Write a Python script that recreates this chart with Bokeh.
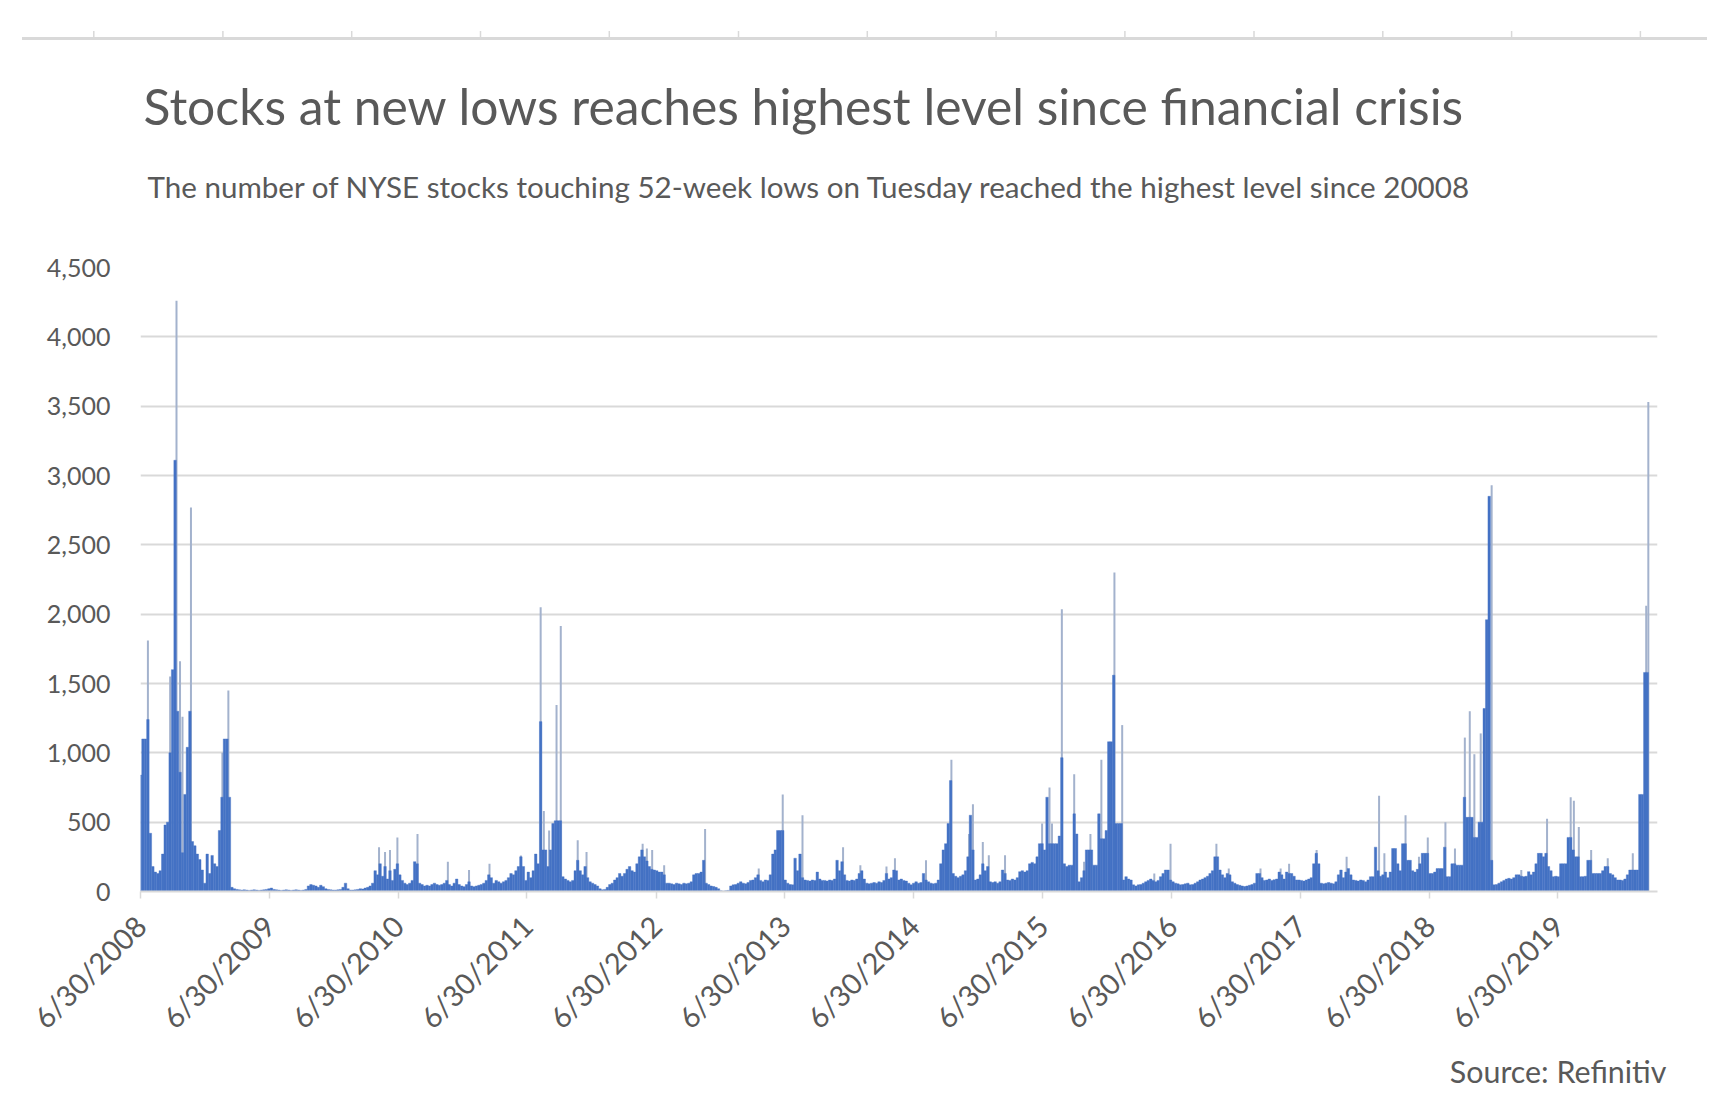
import math
import pandas as pd
from bokeh.plotting import figure
from bokeh.models import (ColumnDataSource, Range1d, FixedTicker, NumeralTickFormatter,
                          CustomJSTickFormatter, Title, Div)
from bokeh.layouts import column
from bokeh.embed import file_html
from bokeh.resources import INLINE

# ---------------- data (weekly level of NYSE stocks at 52-week lows) ----------
first_week = "2008-06-30"

lows_2008_09 = [840, 1100, 1100, 1240, 420, 180, 140, 130, 150, 270,
                480, 500, 1000, 1600, 3110, 1300, 860, 280, 700, 1040,
                1300, 360, 330, 270, 230, 155, 60, 270, 130, 260,
                200, 180, 440, 680, 1100, 1100, 680, 30, 20, 15,
                12, 10, 12, 10, 8, 10, 12, 10, 8, 10,
                12, 15]
lows_2009_10 = [20, 25, 15, 12, 10, 8, 10, 12, 10, 8,
                10, 12, 10, 8, 10, 15, 40, 50, 45, 40,
                30, 45, 35, 20, 15, 12, 10, 10, 12, 15,
                30, 60, 20, 10, 10, 12, 15, 20, 18, 25,
                30, 40, 60, 150, 120, 200, 110, 180, 90, 150,
                80, 160]
lows_2010_11 = [200, 120, 80, 60, 50, 60, 80, 215, 200, 60,
                50, 40, 45, 40, 50, 60, 50, 45, 50, 60,
                80, 50, 40, 60, 90, 50, 40, 35, 50, 70,
                40, 35, 40, 45, 50, 60, 80, 120, 100, 60,
                80, 70, 60, 70, 80, 100, 130, 120, 150, 180,
                250, 180]
lows_2011_12 = [80, 140, 100, 150, 270, 200, 1225, 300, 300, 180,
                300, 490, 510, 510, 510, 107, 90, 80, 70, 80,
                150, 225, 150, 120, 180, 100, 70, 60, 50, 40,
                20, 12, 15, 30, 50, 60, 83, 100, 130, 110,
                130, 160, 180, 150, 140, 200, 250, 300, 250, 220,
                180, 160]
lows_2012_13 = [155, 150, 140, 140, 120, 60, 60, 55, 50, 60,
                55, 50, 60, 55, 60, 70, 120, 130, 130, 140,
                225, 60, 50, 40, 36, 30, 20, 5, 3, 5,
                8, 40, 48, 50, 60, 70, 60, 55, 65, 80,
                83, 100, 120, 80, 70, 83, 80, 120, 270, 300,
                440, 440]
lows_2013_14 = [440, 83, 60, 50, 48, 240, 150, 270, 100, 83,
                80, 75, 83, 80, 140, 90, 80, 80, 75, 83,
                80, 90, 225, 150, 215, 120, 80, 75, 83, 80,
                90, 130, 150, 90, 60, 55, 60, 65, 60, 70,
                65, 80, 130, 90, 100, 155, 150, 83, 90, 80,
                75, 60]
lows_2014_15 = [48, 60, 70, 60, 65, 130, 83, 70, 60, 55,
                60, 83, 200, 300, 345, 490, 800, 130, 110, 100,
                110, 120, 150, 250, 550, 300, 83, 90, 120, 200,
                150, 180, 70, 65, 70, 60, 70, 155, 130, 83,
                80, 90, 83, 100, 143, 150, 140, 150, 200, 210,
                200, 250]
lows_2015_16 = [345, 345, 300, 680, 345, 345, 345, 345, 400, 965,
                200, 180, 190, 190, 560, 415, 70, 100, 150, 300,
                300, 300, 190, 190, 560, 380, 380, 440, 1080, 1080,
                1560, 490, 490, 490, 83, 107, 90, 83, 48, 40,
                48, 50, 60, 70, 80, 90, 80, 70, 80, 107,
                130, 155]
lows_2016_17 = [155, 83, 70, 60, 55, 48, 50, 55, 60, 48,
                50, 60, 70, 83, 90, 100, 110, 130, 150, 250,
                250, 155, 120, 100, 130, 120, 70, 60, 50, 45,
                40, 36, 40, 45, 50, 60, 130, 130, 100, 80,
                83, 90, 80, 85, 90, 140, 120, 90, 140, 130,
                130, 110]
lows_2017_18 = [83, 83, 80, 75, 83, 90, 100, 200, 275, 200,
                60, 55, 60, 65, 60, 55, 70, 120, 155, 100,
                140, 165, 120, 83, 80, 75, 83, 80, 70, 83,
                107, 107, 320, 150, 110, 120, 140, 100, 140, 310,
                310, 200, 150, 345, 345, 225, 225, 150, 140, 160,
                200, 275]
lows_2018_19 = [275, 275, 130, 130, 140, 165, 165, 165, 320, 107,
                107, 200, 200, 190, 190, 190, 680, 535, 535, 535,
                390, 390, 500, 500, 1320, 1960, 2850, 225, 48, 50,
                60, 70, 80, 90, 95, 90, 100, 120, 120, 110,
                107, 110, 143, 120, 140, 200, 275, 275, 250, 275,
                180, 150]
lows_2019_20 = [107, 110, 107, 200, 200, 200, 390, 390, 300, 250,
                250, 107, 107, 110, 225, 225, 130, 130, 130, 130,
                150, 180, 180, 130, 120, 100, 83, 83, 80, 90,
                120, 155, 155, 155, 155, 700, 700, 1580, 1580]

# single-day spikes (thin, lighter columns)
spike_dates = ["2008-07-21", "2008-09-22", "2008-10-10", "2008-10-20", "2008-10-27", "2008-11-20",
               "2009-02-17", "2009-03-06",
               "2010-05-07", "2010-05-24", "2010-06-07", "2010-06-28", "2010-08-24", "2010-11-18",
               "2011-01-17", "2011-03-16", "2011-06-13",
               "2011-08-08", "2011-08-17", "2011-09-01", "2011-09-22", "2011-10-04", "2011-11-21",
               "2011-12-16",
               "2012-05-23", "2012-06-04", "2012-06-19", "2012-07-23", "2012-11-16", "2013-04-17",
               "2013-06-24", "2013-08-19", "2013-12-12", "2014-01-30", "2014-04-14", "2014-05-08",
               "2014-08-04", "2014-10-15", "2014-12-04", "2014-12-15", "2015-01-12", "2015-01-29",
               "2015-03-16", "2015-06-29", "2015-07-20", "2015-07-27", "2015-08-24", "2015-09-28",
               "2015-10-26", "2015-11-13", "2015-12-14", "2016-01-20", "2016-02-11", "2016-05-12",
               "2016-06-27",
               "2016-11-04", "2016-12-09", "2017-03-09", "2017-05-05", "2017-05-29", "2017-08-15",
               "2017-11-08", "2018-02-08", "2018-02-23", "2018-04-24", "2018-06-01", "2018-06-26",
               "2018-08-15", "2018-09-11", "2018-10-09", "2018-10-23", "2018-11-05", "2018-11-23",
               "2018-12-24", "2019-03-18", "2019-05-30", "2019-08-05", "2019-08-14", "2019-08-28",
               "2019-10-02", "2019-11-18", "2020-01-28", "2020-03-06", "2020-03-12"]
spike_values = [1810, 1550, 4260, 1660, 1260, 2770,
                1000, 1450,
                320, 285, 300, 390, 415, 215,
                155, 200, 260,
                2050, 580, 440, 1345, 1915, 370,
                285,
                345, 310, 300, 190, 450, 165,
                700, 550, 320, 190, 180, 240,
                225, 950, 415, 630, 357, 262,
                262, 490, 750, 490, 2035, 845,
                215, 415, 950, 2300, 1200, 130,
                345,
                345, 165, 165, 165, 200, 300,
                250, 690, 275, 550, 250, 390,
                500, 310, 1110, 1300, 990, 1140,
                2930, 155, 525, 680, 655, 465,
                300, 240, 275, 2060, 3530]

tick_dates = ["2008-06-30", "2009-06-30", "2010-06-30", "2011-06-30", "2012-06-30", "2013-06-30",
              "2014-06-30", "2015-06-30", "2016-06-30", "2017-06-30", "2018-06-30", "2019-06-30"]
y_ticks = [0, 500, 1000, 1500, 2000, 2500, 3000, 3500, 4000, 4500]

title_text = "Stocks at new lows reaches highest level since financial crisis"
subtitle_text = ("The number of NYSE stocks touching 52-week lows on Tuesday reached "
                 "the highest level since 20008")
source_text = "Source: Refinitiv"

# ---------------- build ----------------
levels = (lows_2008_09 + lows_2009_10 + lows_2010_11 + lows_2011_12 + lows_2012_13 +
          lows_2013_14 + lows_2014_15 + lows_2015_16 + lows_2016_17 + lows_2017_18 +
          lows_2018_19 + lows_2019_20)
weeks = pd.date_range(first_week, periods=len(levels), freq="7D")
bars = ColumnDataSource(dict(week=weeks, level=levels))
spikes = ColumnDataSource(dict(day=pd.to_datetime(spike_dates), value=spike_values))

BLUE = "#4472C4"
SPIKE = "#A3B2CD"
GRID = "#D9D9D9"
TXT = "#595959"
FONT = "Lato"

DAY_MS = 86400000
x_start = pd.Timestamp("2008-06-30")
x_end = pd.Timestamp("2020-04-07")

# ---- decorative rule with small ticks at the very top of the page (remnant of a cropped chart) ----
FRAME_L, FRAME_W = 140, 1517
px_per_day = FRAME_W / (x_end - x_start).days
rule_ticks = [FRAME_L + (pd.Timestamp(f"{y}-02-20") - x_start).days * px_per_day for y in range(2008, 2021)]
svg = ['<svg width="1729" height="44" xmlns="http://www.w3.org/2000/svg">',
       f'<line x1="22" y1="38.5" x2="1707" y2="38.5" stroke="{GRID}" stroke-width="3"/>']
for tx in rule_ticks:
    svg.append(f'<line x1="{tx:.1f}" y1="31" x2="{tx:.1f}" y2="37" stroke="{GRID}" stroke-width="1.5"/>')
svg.append('</svg>')
strip = Div(text="".join(svg), width=1729, height=44, margin=0,
            styles={"padding": "0", "margin": "0", "line-height": "0"})

p = figure(width=1729, height=1072, x_axis_type="datetime",
           x_range=Range1d(x_start, x_end), y_range=Range1d(0, 4500),
           output_backend="svg", toolbar_location=None,
           min_border_left=140, min_border_right=72, min_border_top=223, min_border_bottom=225,
           outline_line_color=None, margin=0)

p.segment(x0="day", y0=0, x1="day", y1="value", source=spikes, line_color=SPIKE, line_width=2)
p.vbar(x="week", top="level", width=7 * DAY_MS, bottom=0, source=bars,
       fill_color=BLUE, line_color=BLUE, line_width=0.4)

p.xgrid.visible = False
p.ygrid.ticker = FixedTicker(ticks=y_ticks)
p.ygrid.grid_line_color = GRID
p.ygrid.grid_line_width = 2

yax = p.yaxis[0]
yax.ticker = FixedTicker(ticks=y_ticks)
yax.formatter = NumeralTickFormatter(format="0,0")
yax.axis_line_color = None
yax.major_tick_line_color = None
yax.minor_tick_line_color = None
yax.major_tick_out = 0
yax.major_tick_in = 0
yax.major_label_standoff = 30
yax.major_label_text_font = FONT
yax.major_label_text_font_size = "25px"
yax.major_label_text_color = TXT

xax = p.xaxis[0]
xax.ticker = FixedTicker(ticks=[pd.Timestamp(d).value / 1e6 for d in tick_dates])
xax.formatter = CustomJSTickFormatter(code="""
const d = new Date(tick);
return (d.getUTCMonth() + 1) + "/" + d.getUTCDate() + "/" + d.getUTCFullYear();
""")
xax.major_label_orientation = math.pi / 4
xax.axis_line_color = GRID
xax.axis_line_width = 2
xax.major_tick_line_color = GRID
xax.major_tick_line_width = 1.5
xax.major_tick_out = 7
xax.major_tick_in = 0
xax.minor_tick_line_color = None
xax.major_label_standoff = 22
xax.major_label_text_font = FONT
xax.major_label_text_font_size = "29px"
xax.major_label_text_color = TXT

# titles (subtitle added first so that it sits nearer the plot)
p.add_layout(Title(text=subtitle_text, text_font=FONT, text_font_size="29.6px", text_color=TXT,
                   text_font_style="normal", align="left", offset=7, standoff=127), "above")
try:
    main_title = Title(text=title_text, text_font=FONT, text_font_size="49.8px", text_color=TXT,
                       text_font_style="normal", align="left", offset=3, standoff=-65)
except ValueError:
    main_title = Title(text=title_text, text_font=FONT, text_font_size="49.8px", text_color=TXT,
                       text_font_style="normal", align="left", offset=3, standoff=0)
p.add_layout(main_title, "above")
p.add_layout(Title(text=source_text, text_font=FONT, text_font_size="30.4px", text_color=TXT,
                   text_font_style="normal", align="right", offset=-9, standoff=0), "below")

layout = column(strip, p, spacing=0)
open("out.html", "w").write(file_html(layout, INLINE))
